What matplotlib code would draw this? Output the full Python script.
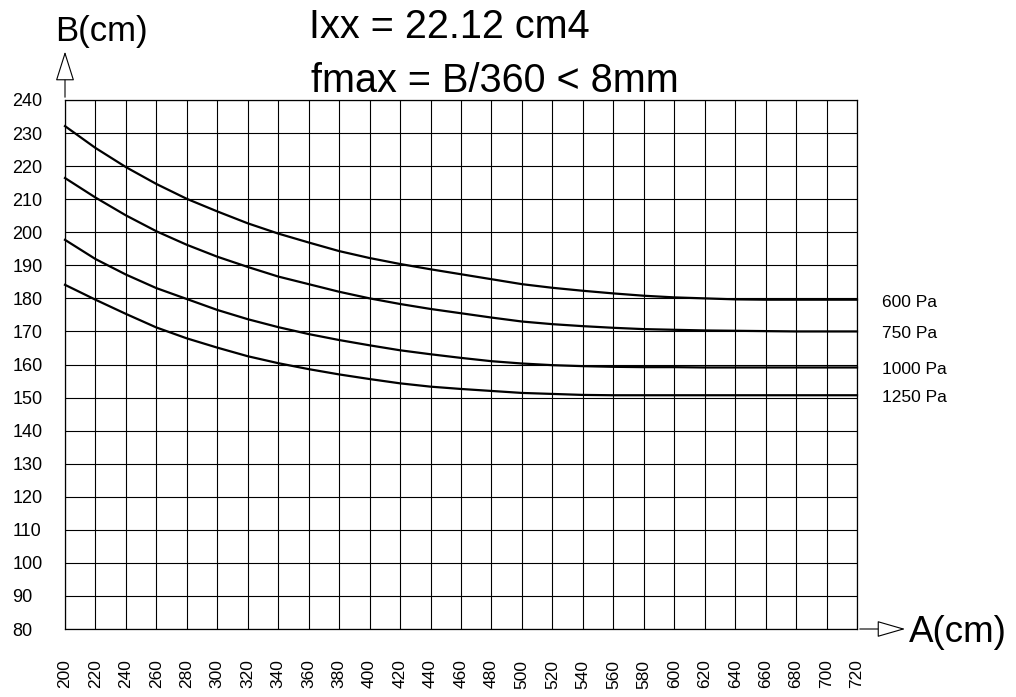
import matplotlib
matplotlib.use("Agg")
import matplotlib.pyplot as plt
from matplotlib.patches import FancyArrowPatch

plt.rcParams['font.family'] = ['Liberation Sans', 'DejaVu Sans']

# A (cm) en el eje x, B (cm) en el eje y
a_cm = [200, 220, 240, 260, 280, 300, 320, 340, 360, 380, 400, 420, 440,
        460, 480, 500, 520, 540, 560, 580, 600, 620, 640, 660, 680, 700, 720]

b_600 = [232.1, 225.5, 219.7, 214.6, 210.1, 206.3, 202.7, 199.6, 196.9, 194.3,
         192.2, 190.4, 188.8, 187.3, 185.8, 184.3, 183.2, 182.3, 181.5, 180.8,
         180.3, 180.0, 179.7, 179.6, 179.6, 179.6, 179.6]
b_750 = [216.4, 210.5, 205.1, 200.3, 196.2, 192.6, 189.5, 186.6, 184.3, 182.0,
         180.0, 178.3, 176.8, 175.5, 174.2, 173.0, 172.2, 171.6, 171.1, 170.7,
         170.5, 170.3, 170.2, 170.1, 170.0, 170.0, 170.0]
b_1000 = [197.7, 191.9, 187.2, 183.1, 179.8, 176.5, 173.7, 171.3, 169.2, 167.4,
          165.8, 164.3, 163.1, 162.0, 161.0, 160.3, 159.8, 159.5, 159.3, 159.2,
          159.2, 159.1, 159.1, 159.1, 159.1, 159.1, 159.1]
b_1250 = [184.1, 179.6, 175.3, 171.2, 167.9, 165.1, 162.5, 160.4, 158.6, 157.0,
          155.6, 154.3, 153.3, 152.6, 152.0, 151.4, 151.1, 150.8, 150.7, 150.7,
          150.7, 150.7, 150.7, 150.7, 150.7, 150.7, 150.7]

curvas = [b_600, b_750, b_1000, b_1250]
etiquetas = ["600 Pa", "750 Pa", "1000 Pa", "1250 Pa"]
y_etiquetas = [302, 333, 370, 397]   # posicion en pixeles (desde arriba)

y_ticks = list(range(80, 241, 10))
x_ticks = list(range(200, 721, 20))

W, H = 1016, 697
fig = plt.figure(figsize=(W / 100, H / 100), dpi=100)
ax = fig.add_axes([65 / W, 1 - 629 / H, (857 - 65) / W, (629 - 100) / H])

ax.set_xlim(200, 720)
ax.set_ylim(80, 240)
ax.set_xticks(x_ticks)
ax.set_yticks(y_ticks)
ax.set_xticklabels([str(v) for v in x_ticks], rotation=90, fontsize=12.5)
ax.set_yticklabels([str(v) for v in y_ticks], fontsize=13, ha='left')
ax.tick_params(axis='x', length=0, pad=22)
ax.tick_params(axis='y', length=0, pad=38)
ax.grid(True, color='black', linewidth=0.8)
for s in ax.spines.values():
    s.set_linewidth(0.9)

for b in curvas:
    ax.plot(a_cm, b, color='black', linewidth=1.6, clip_on=False)

for txt, yp in zip(etiquetas, y_etiquetas):
    fig.text(882 / W, 1 - yp / H, txt, fontsize=12.5, ha='left', va='center')

# flechas de los ejes
flecha_y = FancyArrowPatch((200, 240), (200, 255.5), arrowstyle='-|>,head_length=19,head_width=6',
                           mutation_scale=1, fc='white', ec='black', lw=0.8, clip_on=False)
flecha_x = FancyArrowPatch((720, 80), (753.5, 80), arrowstyle='-|>,head_length=18,head_width=5.2',
                           mutation_scale=1, fc='white', ec='black', lw=0.8, clip_on=False)
ax.add_patch(flecha_y)
ax.add_patch(flecha_x)

fig.text(55 / W, 1 - 41 / H, "B(cm)", fontsize=25, ha='left', va='baseline')
fig.text(909 / W, 1 - 642 / H, "A(cm)", fontsize=26.5, ha='left', va='baseline')
fig.text(309 / W, 1 - 38 / H, "Ixx = 22.12 cm4", fontsize=28.5, ha='left', va='baseline')
fig.text(311 / W, 1 - 92 / H, "fmax = B/360 < 8mm", fontsize=28.5, ha='left', va='baseline')

fig.savefig("out.png", dpi=100)
